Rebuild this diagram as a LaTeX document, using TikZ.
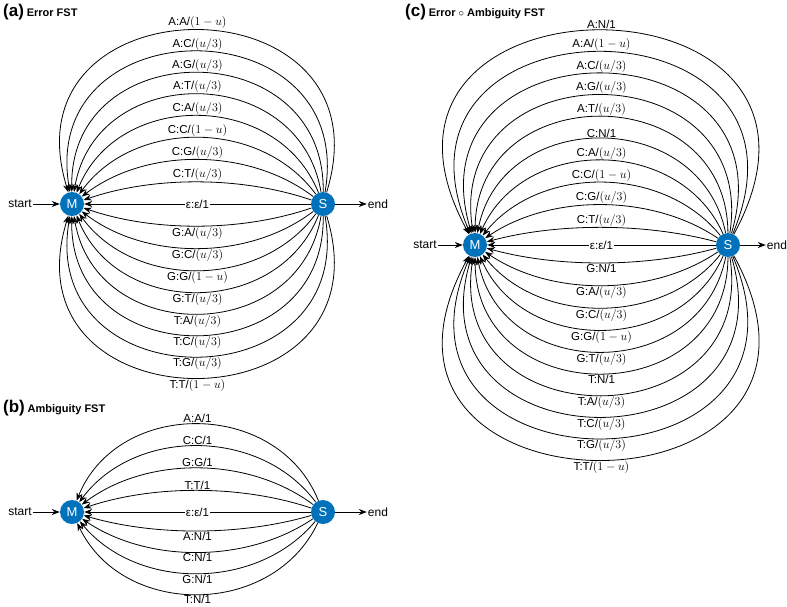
\documentclass[tikz,border=0pt]{standalone}
\usepackage{fontspec}
\setmainfont{Liberation Sans}
\usetikzlibrary{arrows.meta}
\definecolor{stateblue}{RGB}{0,114,188}
\tikzset{
  state/.style={circle, fill=stateblue, text=white, minimum size=24pt, inner sep=0pt, font=\fontsize{13}{13}\selectfont},
  edge/.style={-{Stealth[length=8pt,width=6pt]}, line width=0.8pt},
  lbl/.style={inner sep=1pt, font=\fontsize{11.5}{12}\selectfont},
  title/.style={anchor=west, inner sep=0pt}
}
% circular arc from #1 to #2 with sagitta #3 (sign #5: -1 up, 1 down), label #4
\newcommand{\fstarc}[5]{%
  \pgfmathsetmacro\th{2*atan(#3/126)}%
  \pgfmathsetmacro\L{4/3*(#3/126)*((1.26)^2+(#3/100)^2)/(2*#3/100)*100}%
  \pgfmathsetmacro\cx{\L*cos(\th)}%
  \pgfmathsetmacro\cy{#5*\L*sin(\th)}%
  \ifnum#5<0
    \draw[edge] (#1) .. controls +(-\cx,\cy) and +(\cx,\cy) .. (#2) node[midway, above, lbl] {#4};
  \else
    \draw[edge] (#1) .. controls +(-\cx,\cy) and +(\cx,\cy) .. (#2) node[midway, below, lbl] {#4};
  \fi}
\begin{document}
\begin{tikzpicture}[x=1pt,y=-1pt]
  \useasboundingbox (0,0) rectangle (787,606);
  % (a) error transducer
  \node[title] (ta) at (3,12) {{\fontsize{17}{17}\selectfont\bfseries (a)} {\fontsize{11}{11}\selectfont\bfseries Error FST}};
  \node[state] (Ma) at (72,204) {M};
  \node[state] (Sa) at (323,204) {S};
  \node[lbl, font=\fontsize{12}{12}\selectfont] (starta) at (20,204) {start};
  \node[lbl, font=\fontsize{12}{12}\selectfont] (enda) at (378,204) {end};
  \draw[edge] (starta) -- (Ma);
  \draw[edge] (Sa) -- (enda);
  \draw[edge, {Stealth[length=8pt,width=6pt]}-] (Ma) -- (Sa) node[midway, lbl, fill=white] {ε:ε/1};
  \foreach \lab [count=\i] in {A:A/$(1-u)$, A:C/$(u/3)$, A:G/$(u/3)$, A:T/$(u/3)$,
                               C:A/$(u/3)$, C:C/$(1-u)$, C:G/$(u/3)$, C:T/$(u/3)$}{
    \pgfmathsetmacro\d{171-(\i-1)*21.43}
    \fstarc{Sa}{Ma}{\d}{\lab}{-1}
  }
  \foreach \lab [count=\i] in {G:A/$(u/3)$, G:C/$(u/3)$, G:G/$(1-u)$, G:T/$(u/3)$,
                               T:A/$(u/3)$, T:C/$(u/3)$, T:G/$(u/3)$, T:T/$(1-u)$}{
    \pgfmathsetmacro\d{21+(\i-1)*21.43}
    \fstarc{Sa}{Ma}{\d}{\lab}{1}
  }
  % (b) ambiguity transducer
  \node[title] (tb) at (3,408) {{\fontsize{17}{17}\selectfont\bfseries (b)} {\fontsize{11}{11}\selectfont\bfseries Ambiguity FST}};
  \node[state] (Mb) at (72,512) {M};
  \node[state] (Sb) at (323,512) {S};
  \node[lbl, font=\fontsize{12}{12}\selectfont] (startb) at (20,512) {start};
  \node[lbl, font=\fontsize{12}{12}\selectfont] (endb) at (378,512) {end};
  \draw[edge] (startb) -- (Mb);
  \draw[edge] (Sb) -- (endb);
  \draw[edge, {Stealth[length=8pt,width=6pt]}-] (Mb) -- (Sb) node[midway, lbl, fill=white] {ε:ε/1};
  \foreach \lab [count=\i] in {A:A/1, C:C/1, G:G/1, T:T/1}{
    \pgfmathsetmacro\d{85-(\i-1)*21.5}
    \fstarc{Sb}{Mb}{\d}{\lab}{-1}
  }
  \foreach \lab [count=\i] in {A:N/1, C:N/1, G:N/1, T:N/1}{
    \pgfmathsetmacro\d{18+(\i-1)*20.5}
    \fstarc{Sb}{Mb}{\d}{\lab}{1}
  }
  % (c) composed transducer
  \node[title] (tc) at (405,12) {{\fontsize{17}{17}\selectfont\bfseries (c)} {\fontsize{11}{11}\selectfont\bfseries Error $\circ$ Ambiguity FST}};
  \node[state] (Mc) at (475,245) {M};
  \node[state] (Sc) at (728,245) {S};
  \node[lbl, font=\fontsize{12}{12}\selectfont] (startc) at (425,245) {start};
  \node[lbl, font=\fontsize{12}{12}\selectfont] (endc) at (777,245) {end};
  \draw[edge] (startc) -- (Mc);
  \draw[edge] (Sc) -- (endc);
  \draw[edge, {Stealth[length=8pt,width=6pt]}-] (Mc) -- (Sc) node[midway, lbl, fill=white] {ε:ε/1};
  \foreach \lab [count=\i] in {A:N/1, A:A/$(1-u)$, A:C/$(u/3)$, A:G/$(u/3)$, A:T/$(u/3)$,
                               C:N/1, C:A/$(u/3)$, C:C/$(1-u)$, C:G/$(u/3)$, C:T/$(u/3)$}{
    \pgfmathsetmacro\d{212-(\i-1)*21.7}
    \fstarc{Sc}{Mc}{\d}{\lab}{-1}
  }
  \foreach \lab [count=\i] in {G:N/1, G:A/$(u/3)$, G:C/$(u/3)$, G:G/$(1-u)$, G:T/$(u/3)$,
                               T:N/1, T:A/$(u/3)$, T:C/$(u/3)$, T:G/$(u/3)$, T:T/$(1-u)$}{
    \pgfmathsetmacro\d{17+(\i-1)*21.7}
    \fstarc{Sc}{Mc}{\d}{\lab}{1}
  }
\end{tikzpicture}
\end{document}
